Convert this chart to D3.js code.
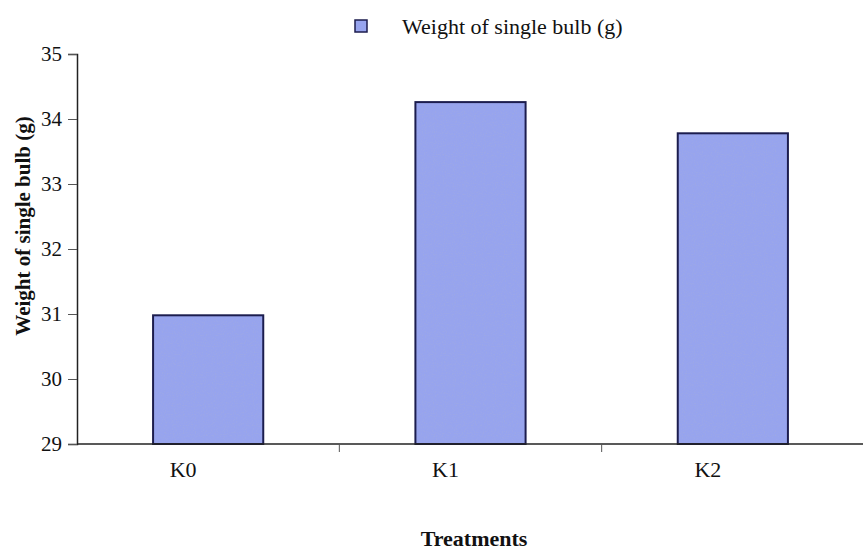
<!DOCTYPE html>
<html>
<head>
<meta charset="utf-8">
<script src="https://cdn.jsdelivr.net/npm/d3@7/dist/d3.min.js"></script>
<style>
  html, body { margin: 0; padding: 0; background: #fff; }
  svg { display: block; }
  text { font-family: "Liberation Serif", "Times New Roman", serif; fill: #111; }
</style>
</head>
<body>
<script>
// Treatment means for single bulb weight
const categories = ["K0", "K1", "K2"];
const bulbWeight = [30.98, 34.26, 33.78];
const yTicks = [29, 30, 31, 32, 33, 34, 35];
const seriesName = "Weight of single bulb (g)";
const yTitle = "Weight of single bulb (g)";
const xTitle = "Treatments";

const W = 863, H = 551;
const plot = { left: 77, right: 864, top: 54, bottom: 444 };
const barFill = "#97a4ee";
const barStroke = "#1c1d4e";

const svg = d3.select("body").append("svg")
  .attr("width", W).attr("height", H);

// speckled fill for the bars
const defs = svg.append("defs");
const grain = defs.append("filter").attr("id", "speckle")
  .attr("x", 0).attr("y", 0).attr("width", 1).attr("height", 1);
grain.append("feTurbulence")
  .attr("type", "fractalNoise").attr("baseFrequency", 0.9)
  .attr("numOctaves", 1).attr("seed", 3).attr("result", "noise");
grain.append("feColorMatrix")
  .attr("in", "noise").attr("type", "matrix")
  .attr("values", "0 0 0 0 0.35  0 0 0 0 0.40  0 0 0 0 0.75  0 0 0 -2.2 1.1")
  .attr("result", "dots");
grain.append("feComposite")
  .attr("in", "dots").attr("in2", "SourceGraphic").attr("operator", "in")
  .attr("result", "dotsIn");
grain.append("feMerge").call(m => {
  m.append("feMergeNode").attr("in", "SourceGraphic");
  m.append("feMergeNode").attr("in", "dotsIn");
});

const x = d3.scaleBand()
  .domain(categories)
  .range([plot.left, plot.right])
  .paddingInner(0.58)
  .paddingOuter(0.29);

const y = d3.scaleLinear()
  .domain([29, 35])
  .range([plot.bottom, plot.top]);

// bars
const barData = categories.map((c, i) => ({ c, v: bulbWeight[i] }));
const bars = svg.append("g");
bars.selectAll("rect.fill")
  .data(barData)
  .join("rect")
  .attr("class", "fill")
  .attr("x", d => x(d.c))
  .attr("y", d => y(d.v))
  .attr("width", x.bandwidth())
  .attr("height", d => y(29) - y(d.v))
  .attr("fill", barFill)
  .attr("filter", "url(#speckle)");
bars.selectAll("rect.edge")
  .data(barData)
  .join("rect")
  .attr("class", "edge")
  .attr("x", d => x(d.c))
  .attr("y", d => y(d.v))
  .attr("width", x.bandwidth())
  .attr("height", d => y(29) - y(d.v))
  .attr("fill", "none")
  .attr("stroke", barStroke)
  .attr("stroke-width", 2);

// y axis
const yAxis = svg.append("g")
  .attr("transform", `translate(${plot.left},0)`)
  .call(d3.axisLeft(y).tickValues(yTicks).tickFormat(d3.format("d")).tickSize(9).tickPadding(6));
yAxis.select(".domain").attr("stroke", "#222").attr("stroke-width", 1.5);
yAxis.selectAll(".tick line").attr("stroke", "#555");
yAxis.selectAll(".tick text")
  .attr("font-size", 21)
  .attr("fill", "#222");

// x axis: ticks sit on category boundaries, labels sit under each bar
const step = x.step();
const boundaries = categories.slice(1).map(c => x(c) - (step - x.bandwidth()) / 2);
const xAxisG = svg.append("g")
  .attr("transform", `translate(0,${plot.bottom})`);
xAxisG.append("line")
  .attr("x1", plot.left).attr("x2", plot.right)
  .attr("stroke", "#222").attr("stroke-width", 1.5);
xAxisG.selectAll("line.tk")
  .data(boundaries)
  .join("line")
  .attr("class", "tk")
  .attr("x1", d => d).attr("x2", d => d)
  .attr("y1", 0).attr("y2", 8)
  .attr("stroke", "#555");
xAxisG.selectAll("text")
  .data(categories)
  .join("text")
  .attr("x", d => x(d) + x.bandwidth() / 2 - 25)
  .attr("y", 33)
  .attr("text-anchor", "middle")
  .attr("font-size", 22)
  .text(d => d);

// axis titles
svg.append("text")
  .attr("transform", "translate(30,226) rotate(-90)")
  .attr("text-anchor", "middle")
  .attr("font-size", 21)
  .attr("font-weight", "bold")
  .text(yTitle);

svg.append("text")
  .attr("x", 474).attr("y", 546)
  .attr("text-anchor", "middle")
  .attr("font-size", 22)
  .attr("font-weight", "bold")
  .text(xTitle);

// legend
const lg = svg.append("g").attr("transform", "translate(355,20)");
lg.append("rect")
  .attr("width", 12).attr("height", 12)
  .attr("fill", barFill).attr("stroke", barStroke).attr("stroke-width", 1.5);
lg.append("text")
  .attr("x", 47).attr("y", 14)
  .attr("font-size", 22)
  .text(seriesName);
</script>
</body>
</html>
